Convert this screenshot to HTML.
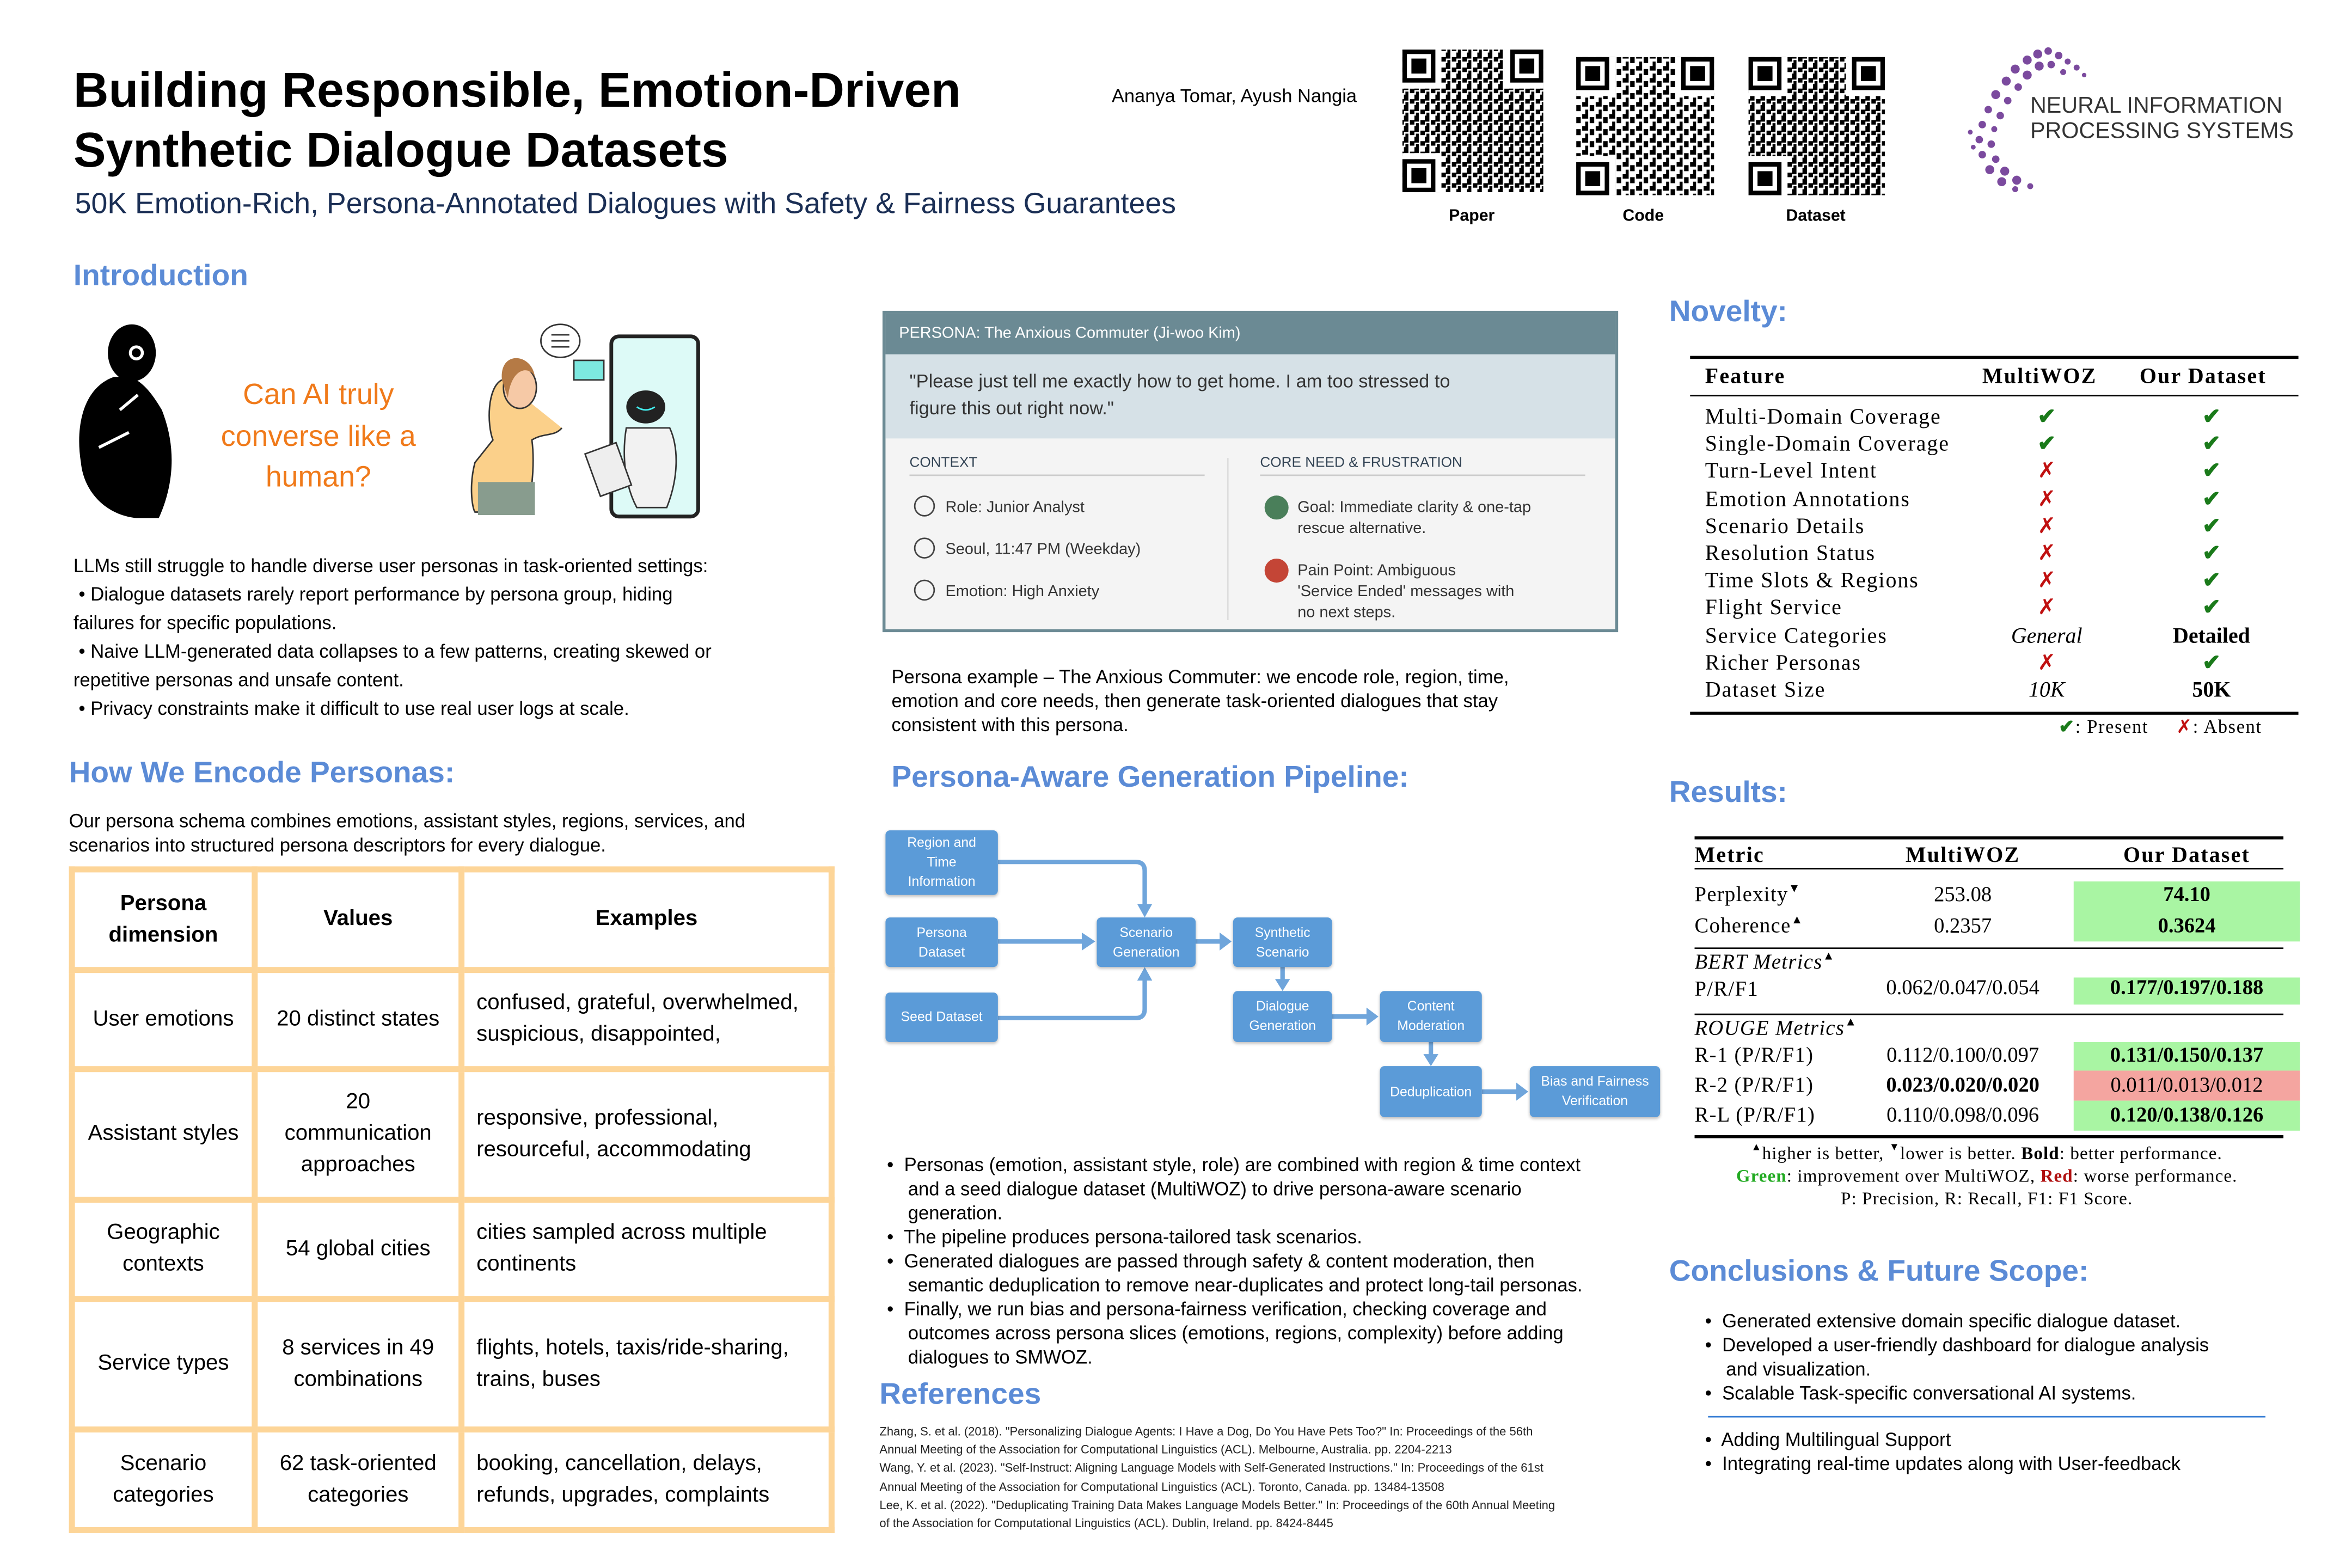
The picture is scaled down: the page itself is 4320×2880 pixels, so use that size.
<!DOCTYPE html>
<html><head><meta charset="utf-8">
<style>
html,body{margin:0;padding:0;background:#fff;}
body{width:4320px;height:2880px;overflow:hidden;position:relative;}
#w{position:absolute;left:0;top:0;width:1560px;height:1040px;transform:scale(2.752,2.758);transform-origin:0 0;font-family:"Liberation Sans",Arial,sans-serif;color:#000;}
.a{position:absolute;white-space:nowrap;}
.h{color:#5b8bd6;font-weight:bold;font-size:20px;}
.t{font-size:12.6px;line-height:16px;}
.serif{font-family:"Liberation Serif",serif;}
.box{position:absolute;background:#5b9bd8;color:#fff;font-size:9px;line-height:13px;text-align:center;display:flex;align-items:center;justify-content:center;border-radius:3px;box-shadow:0 1px 2px rgba(0,0,0,.25);}
.ck{color:#1a7a1a;font-weight:bold;}
.x{color:#c01010;}
.sp{font-size:8px;position:relative;top:-6px;line-height:0;}
table.p{position:absolute;left:46px;top:577px;width:511px;height:444px;border-collapse:collapse;font-size:14.6px;table-layout:fixed;}
table.p td{border:4px solid #fdd598;padding:0 8px;line-height:21px;}
</style></head><body><div id="w">

<div class="a" style="left:49px;top:40px;font-size:32.5px;font-weight:bold;line-height:40px;">Building Responsible, Emotion-Driven<br>Synthetic Dialogue Datasets</div>
<div class="a" style="left:50px;top:125px;font-size:19.5px;color:#1b2f55;">50K Emotion-Rich, Persona-Annotated Dialogues with Safety &amp; Fairness Guarantees</div>
<div class="a" style="left:742px;top:57px;font-size:12.5px;">Ananya Tomar, Ayush Nangia</div>

<svg class="a" style="left:930px;top:28px" width="340" height="125" viewBox="0 0 340 125">
<defs>
<pattern id="q1" width="7" height="7" patternUnits="userSpaceOnUse"><rect width="3" height="4"/><rect x="4" y="3" width="3" height="3"/><rect x="1" y="5" width="2" height="2"/></pattern>
<pattern id="q2" width="9" height="8" patternUnits="userSpaceOnUse"><rect width="4" height="3"/><rect x="5" y="2" width="3" height="4"/><rect x="2" y="5" width="2" height="3"/></pattern>
<g id="fp"><rect width="22" height="22" fill="#000"/><rect x="3" y="3" width="16" height="16" fill="#fff"/><rect x="6" y="6" width="10" height="10" fill="#000"/></g>
</defs>
<rect x="6" y="5" width="94" height="95" fill="url(#q1)"/>
<rect x="6" y="5" width="26" height="26" fill="#fff"/><rect x="74" y="5" width="26" height="26" fill="#fff"/><rect x="6" y="74" width="26" height="26" fill="#fff"/>
<use href="#fp" x="6" y="5"/><use href="#fp" x="78" y="5"/><use href="#fp" x="6" y="78"/>
<rect x="122" y="10" width="92" height="92" fill="url(#q2)"/>
<rect x="122" y="10" width="26" height="26" fill="#fff"/><rect x="188" y="10" width="26" height="26" fill="#fff"/><rect x="122" y="76" width="26" height="26" fill="#fff"/>
<use href="#fp" x="122" y="10"/><use href="#fp" x="192" y="10"/><use href="#fp" x="122" y="80"/>
<rect x="237" y="10" width="91" height="92" fill="url(#q1)"/>
<rect x="237" y="10" width="26" height="26" fill="#fff"/><rect x="302" y="10" width="26" height="26" fill="#fff"/><rect x="237" y="76" width="26" height="26" fill="#fff"/>
<use href="#fp" x="237" y="10"/><use href="#fp" x="306" y="10"/><use href="#fp" x="237" y="80"/>
</svg>
<div class="a" style="left:967px;top:138px;font-size:11px;font-weight:bold;">Paper</div>
<div class="a" style="left:1083px;top:138px;font-size:11px;font-weight:bold;">Code</div>
<div class="a" style="left:1192px;top:138px;font-size:11px;font-weight:bold;">Dataset</div>

<svg class="a" style="left:1305px;top:28px" width="100" height="100" viewBox="0 0 100 100" fill="#7b4a9e">
<circle cx="55" cy="8" r="3"/><circle cx="62" cy="6" r="2.5"/><circle cx="69" cy="9" r="2.5"/><circle cx="75" cy="13" r="2"/><circle cx="81" cy="17" r="2"/><circle cx="48" cy="12" r="3"/><circle cx="56" cy="16" r="3"/><circle cx="64" cy="15" r="2.5"/><circle cx="72" cy="20" r="2"/>
<circle cx="40" cy="18" r="3"/><circle cx="48" cy="22" r="3"/><circle cx="34" cy="26" r="3"/><circle cx="42" cy="30" r="2.5"/><circle cx="27" cy="35" r="3"/><circle cx="35" cy="39" r="2.5"/><circle cx="22" cy="45" r="2.5"/><circle cx="30" cy="49" r="2.5"/>
<circle cx="18" cy="55" r="2.5"/><circle cx="26" cy="58" r="2"/><circle cx="16" cy="65" r="2.5"/><circle cx="24" cy="68" r="2.5"/><circle cx="18" cy="75" r="2.5"/><circle cx="27" cy="78" r="2.5"/><circle cx="23" cy="85" r="3"/><circle cx="33" cy="86" r="3"/><circle cx="31" cy="93" r="3"/><circle cx="41" cy="92" r="3"/><circle cx="40" cy="98" r="2"/><circle cx="50" cy="96" r="2"/><circle cx="10" cy="60" r="1.6"/><circle cx="12" cy="70" r="1.6"/><circle cx="86" cy="22" r="1.5"/>
</svg>
<div class="a" style="left:1355px;top:63px;font-size:15px;line-height:16.5px;color:#333;">NEURAL INFORMATION<br>PROCESSING SYSTEMS</div>

<div class="a h" style="left:49px;top:173px;">Introduction</div>
<svg class="a" style="left:46px;top:213px" width="80" height="134" viewBox="0 0 80 134">
<ellipse cx="42" cy="22" rx="16" ry="19" fill="#000"/><circle cx="45" cy="22" r="5" fill="#fff"/><circle cx="45" cy="22" r="3" fill="#000"/>
<path d="M30 38 C10 45 4 70 8 95 C10 115 25 130 45 132 L60 132 C70 110 72 85 62 60 C55 48 48 40 40 38 Z" fill="#000"/>
<path d="M34 60 L46 50 M20 85 L40 75" stroke="#fff" stroke-width="2"/>
</svg>
<div class="a" style="left:130px;top:250px;width:165px;text-align:center;font-size:19.5px;line-height:27.5px;color:#f07a1a;white-space:normal;">Can AI truly converse like a human?</div>
<svg class="a" style="left:305px;top:213px" width="165" height="135" viewBox="0 0 165 135">
<ellipse cx="69" cy="14" rx="13" ry="11" fill="#fff" stroke="#333"/><path d="M63 10h12M63 14h12M63 18h12" stroke="#333"/>
<rect x="78" y="27" width="20" height="13" fill="#7de8e0" stroke="#333"/>
<path d="M30 40 C20 45 20 70 24 80 L12 95 C8 110 10 125 12 128 L48 128 C50 110 52 95 50 80 C58 75 65 78 70 72" fill="#fbd08a" stroke="#333"/>
<ellipse cx="42" cy="45" rx="11" ry="14" fill="#f6c9a6" stroke="#333"/><path d="M30 40 C28 20 50 22 52 38 C48 30 36 32 34 52 Z" fill="#b57a45"/>
<rect x="14" y="108" width="38" height="22" fill="#889c8e"/>
<rect x="103" y="11" width="58" height="120" rx="5" fill="#ddfaf7" stroke="#222" stroke-width="2.5"/>
<ellipse cx="126" cy="58" rx="13" ry="11" fill="#222"/><path d="M120 58q6 4 12 0" stroke="#4ee" fill="none"/>
<path d="M113 72 C110 90 112 110 120 125 L140 125 C148 105 148 85 142 72 Z" fill="#f2f2f2" stroke="#333"/>
<rect x="90" y="85" width="22" height="30" fill="#eee" stroke="#333" transform="rotate(-20 100 100)"/>
</svg>
<div class="a t" style="left:49px;top:368px;line-height:19px;">LLMs still struggle to handle diverse user personas in task-oriented settings:<br>&nbsp;• Dialogue datasets rarely report performance by persona group, hiding<br>failures for specific populations.<br>&nbsp;• Naive LLM-generated data collapses to a few patterns, creating skewed or<br>repetitive personas and unsafe content.<br>&nbsp;• Privacy constraints make it difficult to use real user logs at scale.</div>

<div class="a h" style="left:46px;top:504px;">How We Encode Personas:</div>
<div class="a t" style="left:46px;top:539px;">Our persona schema combines emotions, assistant styles, regions, services, and<br>scenarios into structured persona descriptors for every dialogue.</div>
<table class="p">
<colgroup><col style="width:122px"><col style="width:138px"><col></colgroup>
<tr style="height:67px"><td style="text-align:center;font-weight:bold">Persona dimension</td><td style="text-align:center;font-weight:bold">Values</td><td style="text-align:center;font-weight:bold">Examples</td></tr>
<tr style="height:66px"><td style="text-align:center">User emotions</td><td style="text-align:center">20 distinct states</td><td>confused, grateful, overwhelmed, suspicious, disappointed,</td></tr>
<tr style="height:87px"><td style="text-align:center">Assistant styles</td><td style="text-align:center">20 communication approaches</td><td>responsive, professional, resourceful, accommodating</td></tr>
<tr style="height:66px"><td style="text-align:center">Geographic contexts</td><td style="text-align:center">54 global cities</td><td>cities sampled across multiple continents</td></tr>
<tr style="height:87px"><td style="text-align:center">Service types</td><td style="text-align:center">8 services in 49 combinations</td><td>flights, hotels, taxis/ride-sharing, trains, buses</td></tr>
<tr style="height:67px"><td style="text-align:center">Scenario categories</td><td style="text-align:center">62 task-oriented categories</td><td>booking, cancellation, delays, refunds, upgrades, complaints</td></tr>
</table>

<div class="a" style="left:589px;top:207px;width:487px;height:210px;border:2px solid #6b8a94;background:#f4f4f4;">
 <div style="height:27px;background:#6b8a94;color:#fff;font-size:10.5px;line-height:27px;padding-left:9px;">PERSONA: The Anxious Commuter (Ji-woo Kim)</div>
 <div style="height:56px;background:#d6e1e7;color:#333;font-size:12.5px;line-height:18px;padding:9px 0 0 16px;box-sizing:border-box;">"Please just tell me exactly how to get home. I am too stressed to<br>figure this out right now."</div>
 <div style="position:absolute;left:16px;top:94px;font-size:9.5px;color:#345;">CONTEXT</div>
 <div style="position:absolute;left:16px;top:107px;width:197px;border-top:1.5px solid #ccc;"></div>
 <div style="position:absolute;left:228px;top:96px;height:108px;border-left:1px solid #ddd;"></div>
 <div style="position:absolute;left:250px;top:94px;font-size:9.5px;color:#345;">CORE NEED &amp; FRUSTRATION</div>
 <div style="position:absolute;left:250px;top:107px;width:217px;border-top:1.5px solid #ccc;"></div>
 <div style="position:absolute;left:19px;top:115px;font-size:10.5px;color:#333;line-height:28px;">
  <div><span style="display:inline-block;width:12px;height:12px;border:1.5px solid #444;border-radius:50%;vertical-align:-3px;margin-right:7px"></span>Role: Junior Analyst</div>
  <div><span style="display:inline-block;width:12px;height:12px;border:1.5px solid #444;border-radius:50%;vertical-align:-3px;margin-right:7px"></span>Seoul, 11:47 PM (Weekday)</div>
  <div><span style="display:inline-block;width:12px;height:12px;border:1.5px solid #444;border-radius:50%;vertical-align:-3px;margin-right:7px"></span>Emotion: High Anxiety</div>
 </div>
 <div style="position:absolute;left:253px;top:121px;width:16px;height:16px;border-radius:50%;background:#4a7f5a"></div>
 <div style="position:absolute;left:275px;top:122px;font-size:10.5px;line-height:14px;color:#333;">Goal: Immediate clarity &amp; one-tap<br>rescue alternative.</div>
 <div style="position:absolute;left:253px;top:163px;width:16px;height:16px;border-radius:50%;background:#c44536"></div>
 <div style="position:absolute;left:275px;top:164px;font-size:10.5px;line-height:14px;color:#333;">Pain Point: Ambiguous<br>'Service Ended' messages with<br>no next steps.</div>
</div>
<div class="a t" style="left:595px;top:443px;">Persona example – The Anxious Commuter: we encode role, region, time,<br>emotion and core needs, then generate task-oriented dialogues that stay<br>consistent with this persona.</div>

<div class="a h" style="left:595px;top:507px;">Persona-Aware Generation Pipeline:</div>
<svg class="a" style="left:580px;top:545px" width="540" height="210" viewBox="580 545 540 210">
<g stroke="#6fa5db" stroke-width="3" fill="none">
<path d="M666 574 H758 q6 0 6 6 V605"/><path d="M666 627 H725"/><path d="M666 678 H758 q6 0 6 -6 V650"/>
<path d="M798 627 H817"/><path d="M856 644 V655"/><path d="M889 677 H915"/><path d="M955 694 V705"/><path d="M989 727 H1015"/>
</g>
<g fill="#6fa5db">
<path d="M759 602 L764 611 L769 602Z"/><path d="M722 621 L731 627 L722 633Z"/><path d="M759 653 L764 644 L769 653Z"/>
<path d="M814 621 L822 627 L814 633Z"/><path d="M851 652 L856 660 L861 652Z"/><path d="M912 671 L920 677 L912 683Z"/><path d="M950 702 L955 710 L960 702Z"/><path d="M1012 721 L1020 727 L1012 733Z"/>
</g>
</svg>
<div class="box" style="left:591px;top:553px;width:75px;height:43px;">Region and<br>Time<br>Information</div>
<div class="box" style="left:591px;top:611px;width:75px;height:33px;">Persona<br>Dataset</div>
<div class="box" style="left:591px;top:661px;width:75px;height:33px;">Seed Dataset</div>
<div class="box" style="left:732px;top:611px;width:66px;height:33px;">Scenario<br>Generation</div>
<div class="box" style="left:823px;top:611px;width:66px;height:33px;">Synthetic<br>Scenario</div>
<div class="box" style="left:823px;top:660px;width:66px;height:34px;">Dialogue<br>Generation</div>
<div class="box" style="left:921px;top:660px;width:68px;height:34px;">Content<br>Moderation</div>
<div class="box" style="left:921px;top:710px;width:68px;height:34px;">Deduplication</div>
<div class="box" style="left:1021px;top:710px;width:87px;height:34px;">Bias and Fairness<br>Verification</div>

<div class="a t" style="left:592px;top:768px;">•&nbsp; Personas (emotion, assistant style, role) are combined with region &amp; time context<br>&nbsp;&nbsp;&nbsp; and a seed dialogue dataset (MultiWOZ) to drive persona-aware scenario<br>&nbsp;&nbsp;&nbsp; generation.<br>•&nbsp; The pipeline produces persona-tailored task scenarios.<br>•&nbsp; Generated dialogues are passed through safety &amp; content moderation, then<br>&nbsp;&nbsp;&nbsp; semantic deduplication to remove near-duplicates and protect long-tail personas.<br>•&nbsp; Finally, we run bias and persona-fairness verification, checking coverage and<br>&nbsp;&nbsp;&nbsp; outcomes across persona slices (emotions, regions, complexity) before adding<br>&nbsp;&nbsp;&nbsp; dialogues to SMWOZ.</div>

<div class="a h" style="left:587px;top:918px;">References</div>
<div class="a" style="left:587px;top:948px;font-size:8px;line-height:12.2px;color:#222;">Zhang, S. et al. (2018). "Personalizing Dialogue Agents: I Have a Dog, Do You Have Pets Too?" In: Proceedings of the 56th<br>Annual Meeting of the Association for Computational Linguistics (ACL). Melbourne, Australia. pp. 2204-2213<br>Wang, Y. et al. (2023). "Self-Instruct: Aligning Language Models with Self-Generated Instructions." In: Proceedings of the 61st<br>Annual Meeting of the Association for Computational Linguistics (ACL). Toronto, Canada. pp. 13484-13508<br>Lee, K. et al. (2022). "Deduplicating Training Data Makes Language Models Better." In: Proceedings of the 60th Annual Meeting<br>of the Association for Computational Linguistics (ACL). Dublin, Ireland. pp. 8424-8445</div>

<div class="a h" style="left:1114px;top:197px;">Novelty:</div>
<div class="a" style="left:1128px;top:237px;width:406px;border-top:2px solid #000;"></div>
<div class="a" style="left:1128px;top:263px;width:406px;border-top:1px solid #000;"></div>
<div class="a" style="left:1128px;top:474px;width:406px;border-top:2px solid #000;"></div>
<div class="a serif" style="left:1138px;top:243px;font-size:14.5px;font-weight:bold;letter-spacing:.8px;">Feature</div>
<div class="a serif" style="left:1323px;top:243px;font-size:14.5px;font-weight:bold;letter-spacing:.8px;">MultiWOZ</div>
<div class="a serif" style="left:1428px;top:243px;font-size:14.5px;font-weight:bold;letter-spacing:.8px;">Our Dataset</div>
<div class="a serif" style="left:1138px;top:269px;font-size:14.5px;line-height:18.2px;letter-spacing:.7px;">Multi-Domain Coverage<br>Single-Domain Coverage<br>Turn-Level Intent<br>Emotion Annotations<br>Scenario Details<br>Resolution Status<br>Time Slots &amp; Regions<br>Flight Service<br>Service Categories<br>Richer Personas<br>Dataset Size</div>
<div class="a serif" style="left:1316px;top:269px;width:100px;text-align:center;font-size:14.5px;line-height:18.2px;"><span class="ck">✔</span><br><span class="ck">✔</span><br><span class="x">✗</span><br><span class="x">✗</span><br><span class="x">✗</span><br><span class="x">✗</span><br><span class="x">✗</span><br><span class="x">✗</span><br><i>General</i><br><span class="x">✗</span><br><i>10K</i></div>
<div class="a serif" style="left:1426px;top:269px;width:100px;text-align:center;font-size:14.5px;line-height:18.2px;"><span class="ck">✔</span><br><span class="ck">✔</span><br><span class="ck">✔</span><br><span class="ck">✔</span><br><span class="ck">✔</span><br><span class="ck">✔</span><br><span class="ck">✔</span><br><span class="ck">✔</span><br><b>Detailed</b><br><span class="ck">✔</span><br><b>50K</b></div>
<div class="a serif" style="left:1374px;top:476px;font-size:12.5px;letter-spacing:.6px;"><span class="ck">✔</span>: Present &nbsp;&nbsp;&nbsp; <span class="x">✗</span>: Absent</div>

<div class="a h" style="left:1114px;top:517px;">Results:</div>
<div class="a" style="left:1384px;top:587px;width:151px;height:40px;background:#a9f5a3;"></div>
<div class="a" style="left:1384px;top:651px;width:151px;height:18px;background:#a9f5a3;"></div>
<div class="a" style="left:1384px;top:694px;width:151px;height:19px;background:#a9f5a3;"></div>
<div class="a" style="left:1384px;top:713px;width:151px;height:20px;background:#f4a5a0;"></div>
<div class="a" style="left:1384px;top:733px;width:151px;height:20px;background:#a9f5a3;"></div>
<div class="a" style="left:1131px;top:557px;width:393px;border-top:2px solid #000;"></div>
<div class="a" style="left:1131px;top:578px;width:393px;border-top:1px solid #000;"></div>
<div class="a" style="left:1131px;top:631px;width:393px;border-top:1px solid #000;"></div>
<div class="a" style="left:1131px;top:675px;width:393px;border-top:1px solid #000;"></div>
<div class="a" style="left:1131px;top:756px;width:393px;border-top:2px solid #000;"></div>
<div class="a serif" style="left:1131px;top:562px;font-size:14.5px;font-weight:bold;letter-spacing:.8px;">Metric</div>
<div class="a serif" style="left:1250px;top:562px;width:120px;text-align:center;font-size:14.5px;font-weight:bold;letter-spacing:.8px;">MultiWOZ</div>
<div class="a serif" style="left:1384px;top:562px;width:151px;text-align:center;font-size:14.5px;font-weight:bold;letter-spacing:.8px;">Our Dataset</div>
<div class="a serif" style="left:1131px;top:587px;font-size:14px;line-height:20.5px;letter-spacing:.5px;">Perplexity<span class="sp">▼</span><br>Coherence<span class="sp">▲</span></div>
<div class="a serif" style="left:1250px;top:587px;width:120px;text-align:center;font-size:14px;line-height:20.5px;">253.08<br>0.2357</div>
<div class="a serif" style="left:1384px;top:587px;width:151px;text-align:center;font-size:14px;line-height:20.5px;font-weight:bold;">74.10<br>0.3624</div>
<div class="a serif" style="left:1131px;top:633px;font-size:14px;line-height:18px;letter-spacing:.5px;"><i>BERT Metrics</i><span class="sp">▲</span><br>P/R/F1</div>
<div class="a serif" style="left:1250px;top:651px;width:120px;text-align:center;font-size:14px;">0.062/0.047/0.054</div>
<div class="a serif" style="left:1384px;top:651px;width:151px;text-align:center;font-size:14px;font-weight:bold;">0.177/0.197/0.188</div>
<div class="a serif" style="left:1131px;top:676px;font-size:14px;line-height:19px;letter-spacing:.5px;"><i>ROUGE Metrics</i><span class="sp">▲</span></div>
<div class="a serif" style="left:1131px;top:694px;font-size:14px;line-height:20px;letter-spacing:.5px;">R-1 (P/R/F1)<br>R-2 (P/R/F1)<br>R-L (P/R/F1)</div>
<div class="a serif" style="left:1240px;top:694px;width:140px;text-align:center;font-size:14px;line-height:20px;">0.112/0.100/0.097<br><b>0.023/0.020/0.020</b><br>0.110/0.098/0.096</div>
<div class="a serif" style="left:1384px;top:694px;width:151px;text-align:center;font-size:14px;line-height:20px;"><b>0.131/0.150/0.137</b><br>0.011/0.013/0.012<br><b>0.120/0.138/0.126</b></div>
<div class="a serif" style="left:1126px;top:761px;width:400px;text-align:center;font-size:12px;line-height:15px;letter-spacing:.4px;"><span class="sp" style="font-size:7px">▲</span>higher is better, <span class="sp" style="font-size:7px">▼</span>lower is better. <b>Bold</b>: better performance.<br><b style="color:#22aa22">Green</b>: improvement over MultiWOZ, <b style="color:#b01010">Red</b>: worse performance.<br>P: Precision, R: Recall, F1: F1 Score.</div>

<div class="a h" style="left:1114px;top:836px;">Conclusions &amp; Future Scope:</div>
<div class="a t" style="left:1138px;top:872px;">•&nbsp; Generated extensive domain specific dialogue dataset.<br>•&nbsp; Developed a user-friendly dashboard for dialogue analysis<br>&nbsp;&nbsp;&nbsp; and visualization.<br>•&nbsp; Scalable Task-specific conversational AI systems.</div>
<div class="a" style="left:1140px;top:943px;width:372px;border-top:1.5px solid #3a7fd5;"></div>
<div class="a t" style="left:1138px;top:951px;">•&nbsp; Adding Multilingual Support<br>•&nbsp; Integrating real-time updates along with User-feedback</div>

</div></body></html>
